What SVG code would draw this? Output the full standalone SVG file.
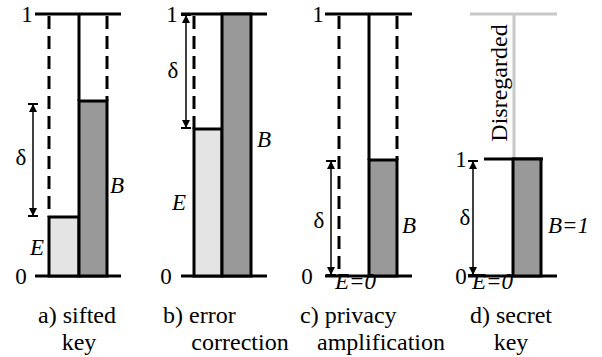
<svg xmlns="http://www.w3.org/2000/svg" width="602" height="357" viewBox="0 0 602 357">
<style>
text{font-size:23px;fill:#000}
.lb{font-size:24px}
.it{font-style:italic}
.m{text-anchor:middle}
.ax{stroke:#000;stroke-width:3;fill:none}
.ds{stroke:#000;stroke-width:3;fill:none;stroke-dasharray:13 7}
.eb{fill:#e4e4e4;stroke:#000;stroke-width:3}
.bb{fill:#999;stroke:#000;stroke-width:3}
.ar{stroke:#000;stroke-width:1.5;fill:none;marker-end:url(#tip);marker-start:url(#tip)}
.gr{stroke:#c8c8c8;stroke-width:3;fill:none}
</style>
<defs>
<marker id="tip" markerUnits="userSpaceOnUse" markerWidth="12" markerHeight="12" refX="10" refY="6" orient="auto-start-reverse" overflow="visible">
<path d="M2,2 L10,6 L2,10 Z" fill="#000"/>
<path d="M10,1 L10,11" stroke="#000" stroke-width="2"/>
</marker>
</defs>
<g font-family="Liberation Serif, serif">
<g id="panel-a">
<path class="ax" d="M35,14 H121 M35,276 H121 M79,14 V101"/>
<path class="ds" d="M49,16 V217 M107,16 V101"/>
<rect class="eb" x="49" y="217" width="30" height="59"/>
<rect class="bb" x="79" y="101" width="28" height="175"/>
<text class="m" x="27" y="22">1</text>
<text class="m" x="21" y="284">0</text>
<text class="m" x="21" y="165">δ</text>
<text class="it" x="110" y="193">B</text>
<text class="it" x="30" y="255">E</text>
<text class="m lb" x="77" y="323">a) sifted</text>
<text class="m lb" x="79" y="350">key</text>
</g>

<g id="panel-b">
<path class="ax" d="M181,14 H267 M181,276 H267"/>
<path class="ds" d="M194,16 V129"/>
<rect class="eb" x="194" y="129" width="28" height="147"/>
<rect class="bb" x="222" y="14" width="29" height="262"/>
<text class="m" x="172" y="22">1</text>
<text class="m" x="166" y="284">0</text>
<text class="m" x="173" y="78">δ</text>
<text class="it" x="257" y="147">B</text>
<text class="it" x="172" y="210">E</text>
<text class="lb" x="163" y="323">b) error</text>
<text class="m lb" x="240" y="350">correction</text>
</g>

<g id="panel-c">
<path class="ax" d="M325,14 H412 M325,276 H412 M369,14 V160"/>
<path class="ds" d="M339,16 V276 M397,16 V160"/>
<rect class="bb" x="369" y="160" width="28" height="116"/>
<text class="m" x="318" y="22">1</text>
<text class="m" x="307" y="284">0</text>
<text class="m" x="319" y="228">δ</text>
<text class="it" x="402" y="233">B</text>
<text class="it" x="335" y="289">E=0</text>
<text class="lb" x="300" y="323">c) privacy</text>
<text class="m lb" x="381" y="350">amplification</text>
</g>

<g id="panel-d">
<path class="gr" d="M470,14 H557 M514,14 V158"/>
<path class="ax" d="M484,159 H543 M468,276 H557"/>
<rect class="bb" x="513" y="159" width="28" height="117"/>
<text class="m lb" transform="translate(507,83) rotate(-90)">Disregarded</text>
<text class="m" x="461" y="167">1</text>
<text class="m" x="461" y="284">0</text>
<text class="m" x="465" y="225">δ</text>
<text class="it" x="548" y="233">B=1</text>
<text class="it" x="472" y="289">E=0</text>
<text class="m lb" x="511" y="323">d) secret</text>
<text class="m lb" x="511" y="350">key</text>
</g>
</g>
<g id="connectors">
<line class="ar" x1="33" y1="104" x2="33" y2="216"/>
<line class="ar" x1="186" y1="15" x2="186" y2="128"/>
<line class="ar" x1="331" y1="161" x2="331" y2="275"/>
<line class="ar" x1="473" y1="161" x2="473" y2="275"/>
</g>
</svg>
